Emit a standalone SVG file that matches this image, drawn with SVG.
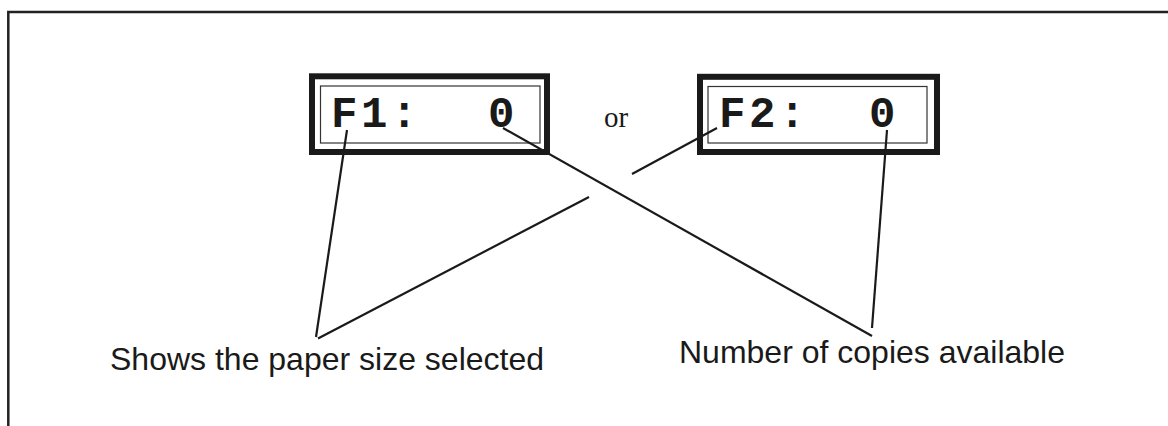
<svg xmlns="http://www.w3.org/2000/svg" width="1168" height="426" viewBox="0 0 1168 426">
  <style>
    .frame { fill: none; stroke: #222; stroke-width: 2.5; }
    .outer { fill: #fff; stroke: #1a1a1a; stroke-width: 6; }
    .inner { fill: none; stroke: #333; stroke-width: 1.2; }
    .disp { font-family: "Liberation Mono", "Courier New", monospace; font-weight: bold; font-size: 44px; letter-spacing: 3.6px; fill: #1a1a1a; }
    .or { font-family: "Liberation Serif", "Times New Roman", serif; font-size: 29px; fill: #1a1a1a; }
    .label { font-family: "Liberation Sans", Arial, sans-serif; font-size: 32px; fill: #1a1a1a; }
    .conn line { stroke: #1a1a1a; stroke-width: 2.2; stroke-linecap: butt; }
  </style>
  <rect width="1168" height="426" fill="#fff"/>
  <path class="frame" d="M8.3,426 V12 H1168"/>
  <g id="display-f1">
    <rect class="outer" x="312" y="76.3" width="235" height="75.7"/>
    <rect class="inner" x="320.5" y="86" width="219.5" height="57"/>
    <text class="disp" x="331" y="127">F1:<tspan x="488">0</tspan></text>
  </g>
  <g id="display-f2">
    <rect class="outer" x="700" y="76.8" width="237" height="75.2"/>
    <rect class="inner" x="708" y="86.5" width="219" height="56.5"/>
    <text class="disp" x="719" y="127">F2:<tspan x="869">0</tspan></text>
  </g>
  <g id="or-text">
    <text class="or" x="604" y="127">or</text>
  </g>
  <g id="label-paper">
    <text class="label" x="110" y="370">Shows the paper size selected</text>
  </g>
  <g id="label-copies">
    <text class="label" x="679" y="363">Number of copies available</text>
  </g>
  <g id="connectors" class="conn">
    <line x1="347" y1="130" x2="316" y2="337"/>
    <line x1="589" y1="197" x2="318" y2="338.5"/>
    <line x1="717" y1="128" x2="632" y2="174"/>
    <line x1="503" y1="128" x2="872" y2="336"/>
    <line x1="887" y1="130" x2="872" y2="328"/>
  </g>
</svg>
